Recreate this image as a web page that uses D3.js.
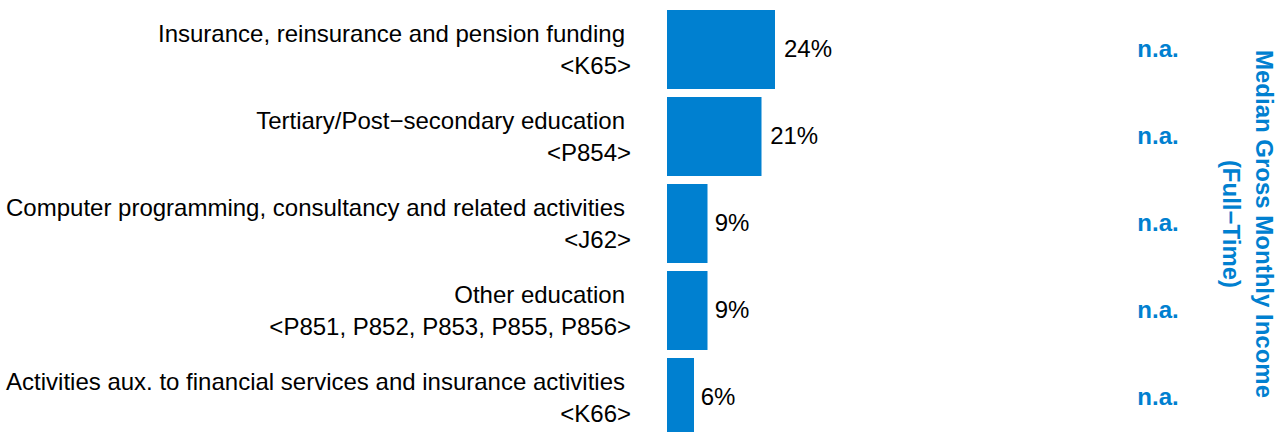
<!DOCTYPE html>
<html>
<head>
<meta charset="utf-8">
<script src="https://cdn.jsdelivr.net/npm/d3@7"></script>
<style>
  html, body { margin: 0; padding: 0; background: #fff; }
  svg { display: block; font-family: "Liberation Sans", Arial, sans-serif; }
</style>
</head>
<body>
<script>
// chart data
var industries = [
    "Insurance, reinsurance and pension funding",
    "Tertiary/Post\u2212secondary education",
    "Computer programming, consultancy and related activities",
    "Other education",
    "Activities aux. to financial services and insurance activities"
];
var codes = ["<K65>", "<P854>", "<J62>", "<P851, P852, P853, P855, P856>", "<K66>"];
var shares = [24, 21, 9, 9, 6];
var incomes = ["n.a.", "n.a.", "n.a.", "n.a.", "n.a."];
var incomeTitle = ["Median Gross Monthly Income", "(Full\u2212Time)"];

var w = 1280, h = 432;
var blue = "#0080d0";

var svg = d3.select("body").append("svg")
    .attr("width", w)
    .attr("height", h);

var y = d3.scaleBand() //one band per industry
    .domain(industries)
    .range([10, 10 + 87 * (5 - 0.092)])
    .paddingInner(0.092)
    .paddingOuter(0);

var x = d3.scaleLinear() //share -> bar length
    .domain([0, 24])
    .range([667, 775]);

var xLabel = d3.scaleLinear() //share -> value label position
    .domain([0, 24])
    .range([673, 784]);

// bars
svg.selectAll(".bar")
    .data(industries)
    .enter()
    .append("rect")
    .attr("class", "bar")
    .attr("x", x(0))
    .attr("y", function(d){ return y(d); })
    .attr("width", function(d, i){ return x(shares[i]) - x(0); })
    .attr("height", y.bandwidth())
    .style("fill", blue);

// category labels, two lines
var labels = svg.selectAll(".label")
    .data(industries)
    .enter()
    .append("text")
    .attr("class", "label")
    .attr("text-anchor", "end")
    .style("font-size", "24px")
    .style("fill", "#000");

labels.append("tspan")
    .attr("x", 625)
    .attr("y", function(d){ return y(d) + y.bandwidth() / 2 - 7; })
    .text(function(d){ return d; });

labels.append("tspan")
    .attr("x", 631)
    .attr("y", function(d){ return y(d) + y.bandwidth() / 2 + 25; })
    .text(function(d, i){ return codes[i]; });

// value labels
svg.selectAll(".value")
    .data(industries)
    .enter()
    .append("text")
    .attr("class", "value")
    .attr("x", function(d, i){ return xLabel(shares[i]); })
    .attr("y", function(d){ return y(d) + y.bandwidth() / 2 + 8; })
    .style("font-size", "24px")
    .style("fill", "#000")
    .text(function(d, i){ return shares[i] + "%"; });

// income column
svg.selectAll(".income")
    .data(industries)
    .enter()
    .append("text")
    .attr("class", "income")
    .attr("text-anchor", "middle")
    .attr("x", 1158)
    .attr("y", function(d){ return y(d) + y.bandwidth() / 2 + 8; })
    .style("font-size", "24px")
    .style("font-weight", "bold")
    .style("fill", blue)
    .text(function(d, i){ return incomes[i]; });

// rotated column title
svg.append("text")
    .attr("class", "title")
    .attr("transform", "translate(1256, 224) rotate(90)")
    .attr("text-anchor", "middle")
    .style("font-size", "24px")
    .style("font-weight", "bold")
    .style("fill", blue)
    .selectAll("tspan")
    .data(incomeTitle)
    .enter()
    .append("tspan")
    .attr("x", 0)
    .attr("y", function(d, i){ return i * 33; })
    .text(function(d){ return d; });
</script>
</body>
</html>
